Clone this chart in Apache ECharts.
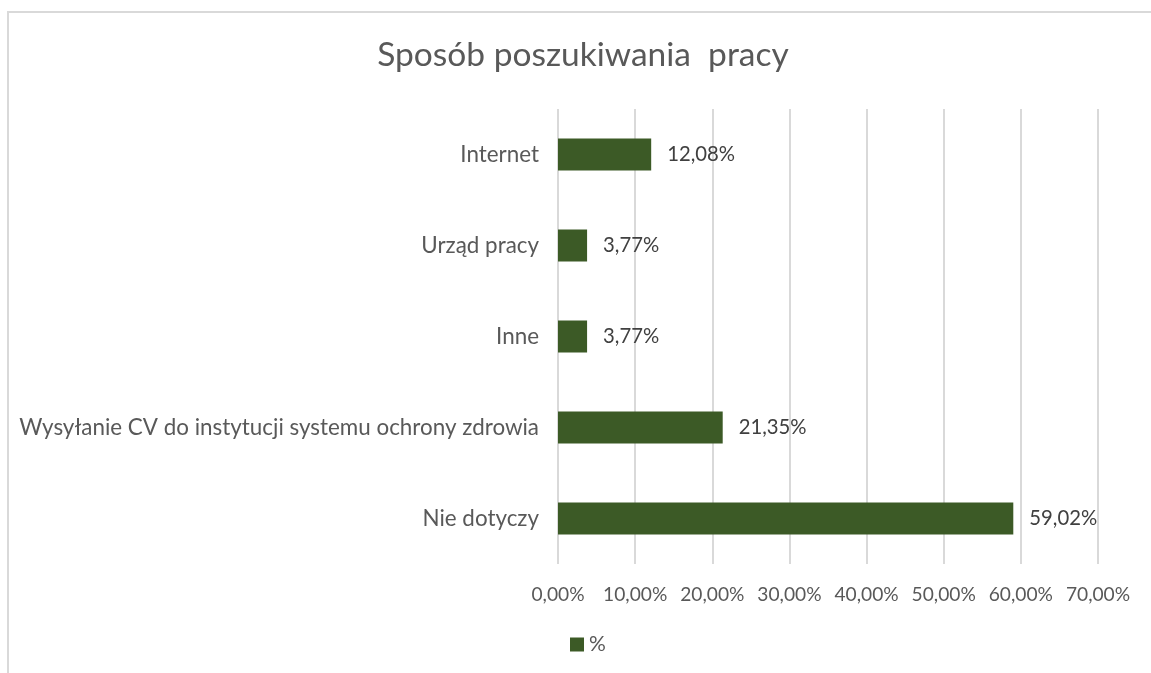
<!DOCTYPE html>
<html>
<head>
<meta charset="utf-8">
<script src="https://cdn.jsdelivr.net/npm/echarts@6/dist/echarts.min.js"></script>
<style>
  html, body { margin: 0; padding: 0; background: #fff; }
</style>
</head>
<body>
<div id="main" style="width: 1151px; height: 673px"></div>
<script type="text/javascript">
  // dane z wykresu
  var categories = ['Internet', 'Urząd pracy', 'Inne', 'Wysyłanie CV do instytucji systemu ochrony zdrowia', 'Nie dotyczy'];
  var values = [12.08, 3.77, 3.77, 21.35, 59.02];
  var seriesName = '%';
  var titleText = 'Sposób poszukiwania  pracy';

  var FONT = 'Lato';
  var GRAY = '#595959';

  function pct(v) {
    return v.toFixed(2).replace('.', ',') + '%';
  }

  var myChart = echarts.init(document.getElementById('main'));

  myChart.setOption({
    backgroundColor: '#fff',
    animation: false,
    title: {
      text: titleText,
      left: 578,
      top: 33,
      textAlign: 'center',
      textStyle: { fontFamily: FONT, fontSize: 33.5, fontWeight: 'normal', color: GRAY }
    },
    // ramka wykresu (obcięta z prawej i z dołu)
    graphic: [{
      type: 'rect',
      shape: { x: 8, y: 12, width: 1160, height: 700 },
      style: { fill: 'none', stroke: '#d9d9d9', lineWidth: 2 },
      silent: true
    }],
    legend: {
      left: 565,
      top: 629,
      itemWidth: 14,
      itemHeight: 14,
      icon: 'rect',
      itemGap: 10,
      textStyle: { fontFamily: FONT, fontSize: 21, color: GRAY },
      data: [seriesName]
    },
    grid: { left: 558, right: 53, top: 109, bottom: 109, containLabel: false },
    xAxis: {
      type: 'value',
      min: 0,
      max: 70,
      interval: 10,
      axisLine: { show: false },
      axisTick: { show: false },
      splitLine: { show: true, lineStyle: { color: '#d9d9d9', width: 2 } },
      axisLabel: {
        margin: 21,
        fontFamily: FONT,
        fontSize: 19.2,
        color: GRAY,
        formatter: function (v) { return pct(v); }
      }
    },
    yAxis: {
      type: 'category',
      inverse: true,
      data: categories,
      axisLine: { show: false },
      axisTick: { show: false },
      axisLabel: { margin: 19, fontFamily: FONT, fontSize: 22.4, color: GRAY }
    },
    series: [{
      name: seriesName,
      type: 'bar',
      data: values,
      barWidth: 32,
      itemStyle: { color: '#3c5a26' },
      label: {
        show: true,
        position: 'right',
        distance: 16,
        fontFamily: FONT,
        fontSize: 20.3,
        color: '#404040',
        formatter: function (p) { return pct(p.value); }
      }
    }]
  });
</script>
</body>
</html>
